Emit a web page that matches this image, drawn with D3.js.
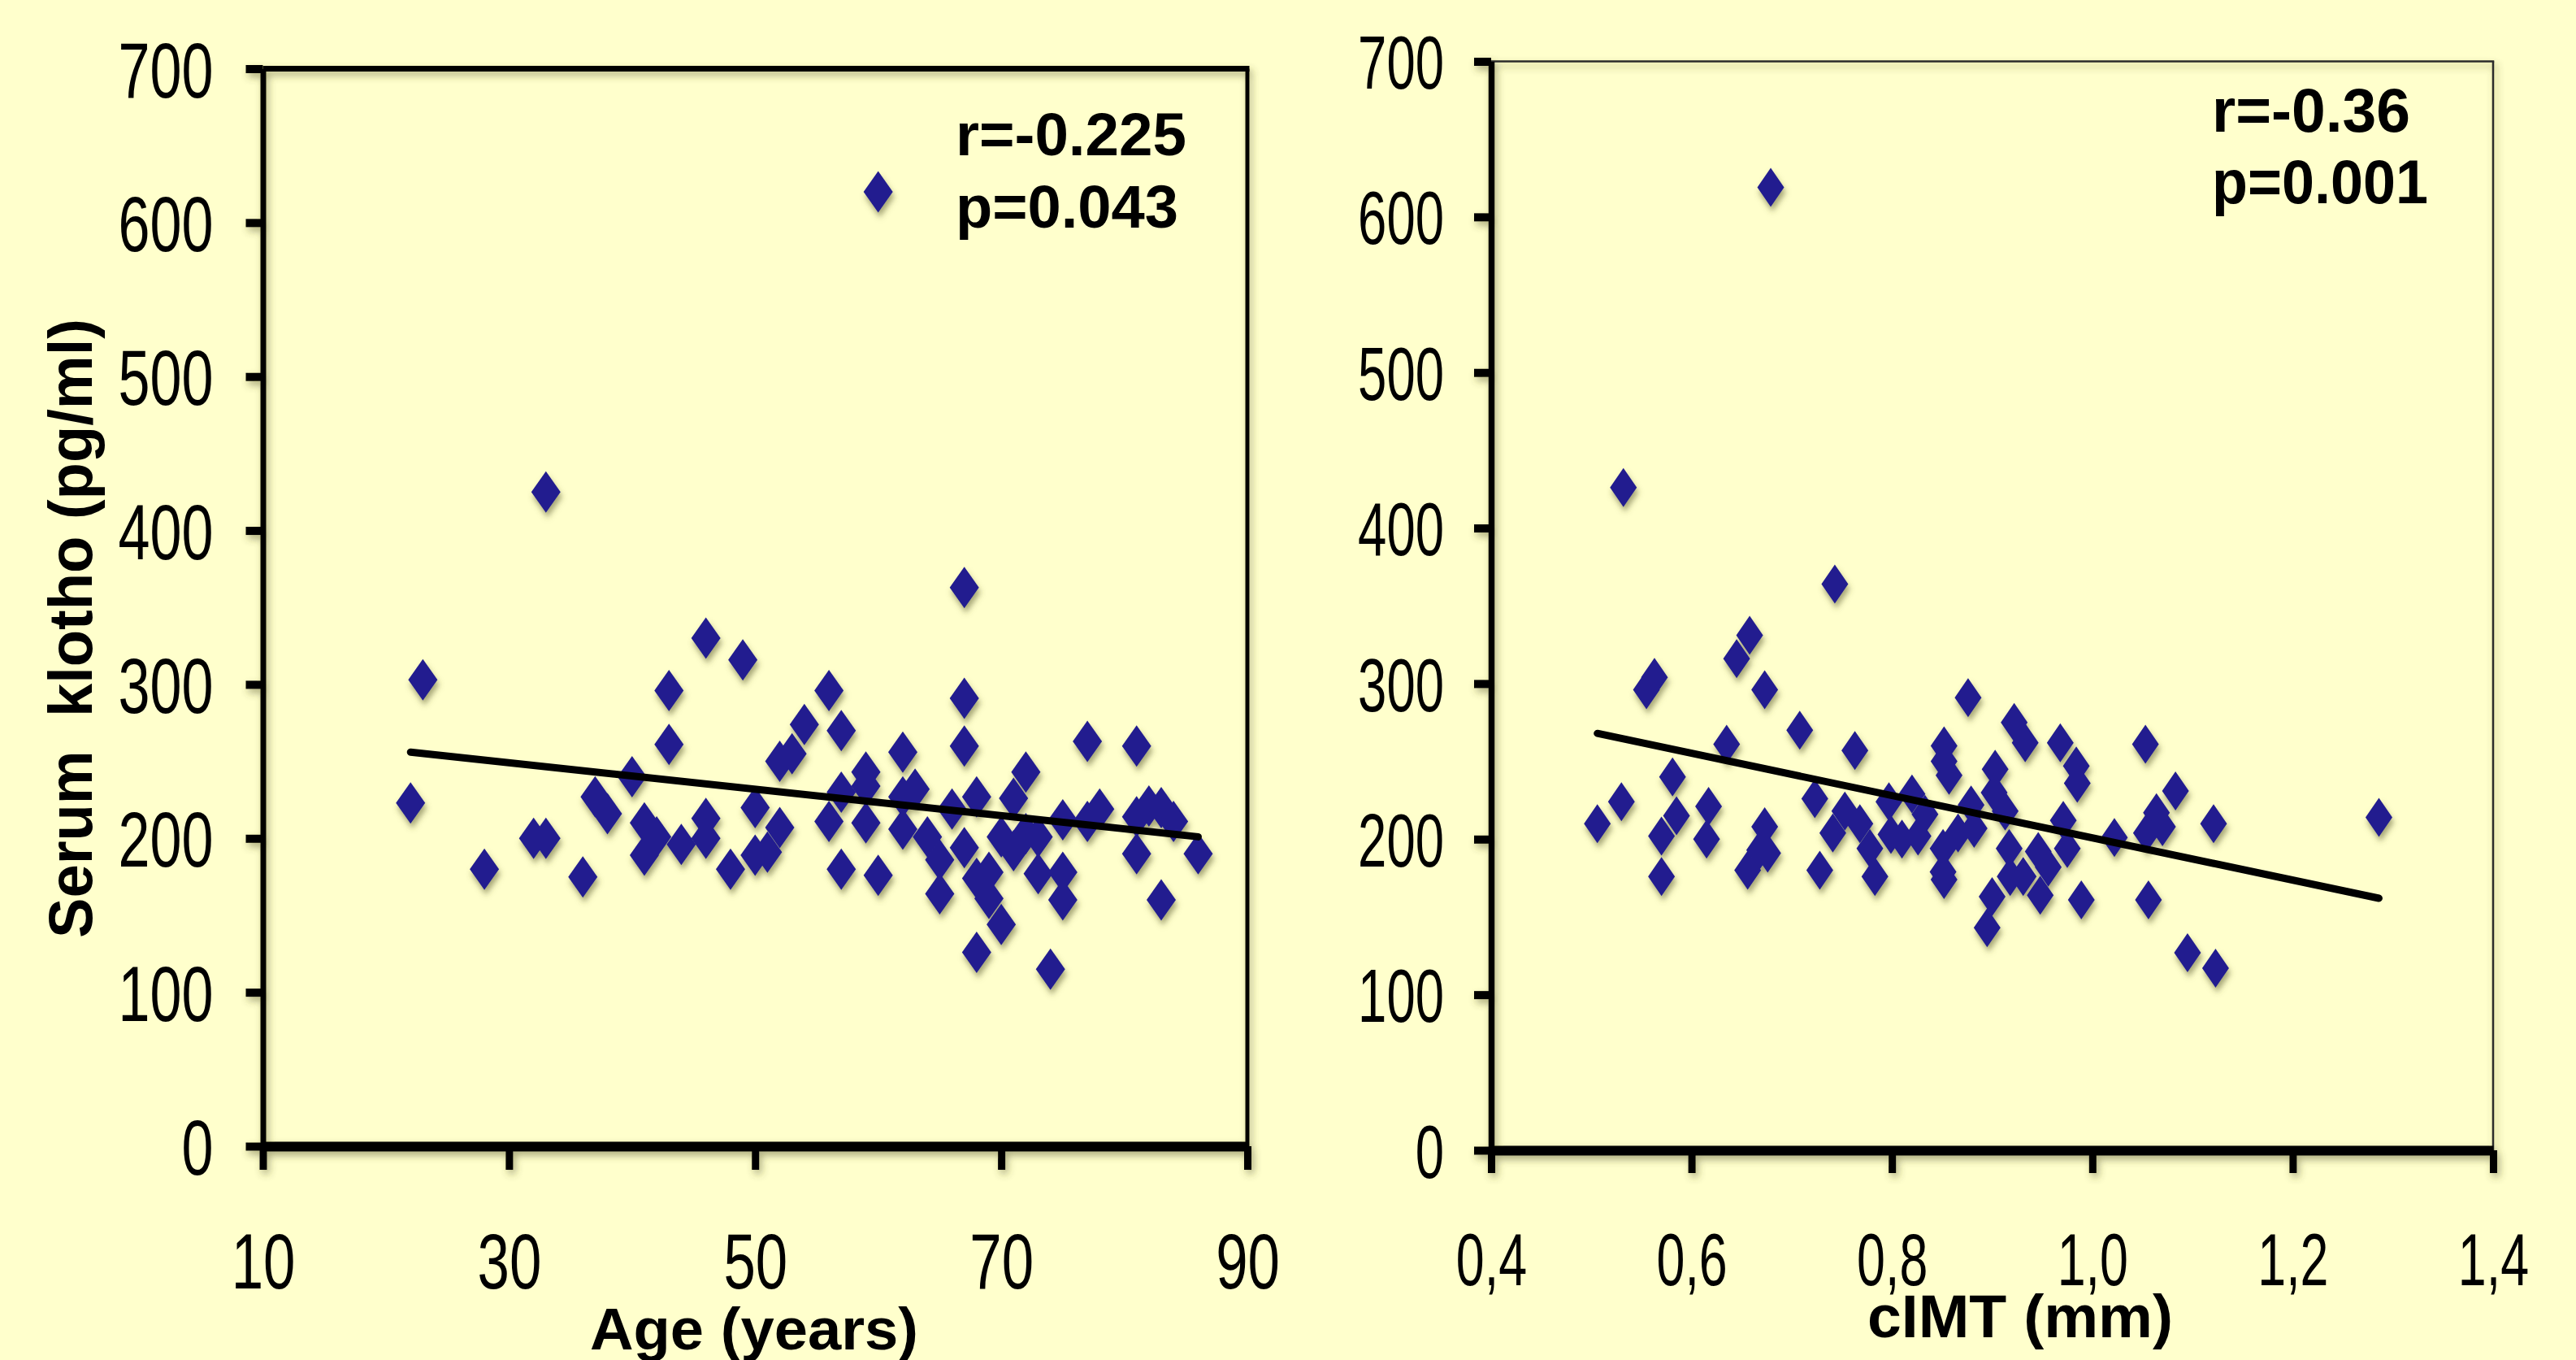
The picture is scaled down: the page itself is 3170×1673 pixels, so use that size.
<!DOCTYPE html>
<html><head><meta charset="utf-8">
<script src="https://cdn.jsdelivr.net/npm/d3@7"></script>
<style>
html,body{margin:0;padding:0;background:#FFFFCC;overflow:hidden;}
svg{display:block;}
</style></head><body>
<svg id="chart" width="3170" height="1673"></svg>
<script>
// ---------- data ----------
const yTicks = [0,100,200,300,400,500,600,700];
const ageTicks = [10,30,50,70,90];
const cimtTicks = [0.4,0.6,0.8,1.0,1.2,1.4];

const ageValues = [22,23,28,32,33,33,36,37,38,40,41,41,42,43,43,44,46,46,46,48,49,50,50,51,52,52,53,54,56,56,57,57,57,59,59,59,60,60,62,62,62,63,64,65,65,66,67,67,67,67,68,68,68,69,69,70,70,71,71,72,72,73,73,74,75,75,75,77,77,78,81,81,81,82,83,83,84,86];
const klothoByAge = [223,303,180,200,200,425,175,227,216,240,210,189,201,296,261,196,330,213,200,180,316,220,189,191,207,250,255,274,296,211,270,230,180,243,234,210,176,620,256,227,206,232,201,186,164,219,363,291,260,194,227,174,126,178,161,201,144,226,192,243,203,201,177,115,212,178,160,263,211,219,260,214,190,221,220,160,211,190];

const cimtValues = [0.743,0.658,0.645,0.563,0.555,0.673,0.876,0.635,0.708,0.763,0.922,0.933,0.968,0.984,0.985,0.852,0.852,0.857,0.903,0.581,0.530,0.506,0.585,0.570,0.570,0.617,0.615,0.673,0.676,0.656,0.723,0.728,0.753,0.741,0.768,0.778,0.783,0.797,0.799,0.820,0.833,0.810,0.826,0.866,0.879,0.882,0.851,0.851,0.852,0.902,0.913,0.917,0.918,0.931,0.946,0.948,0.956,0.971,0.975,0.989,0.900,0.895,0.668,0.532,0.679,1.053,1.083,1.064,1.070,1.054,1.121,1.286,1.022,1.056,1.095,1.123];
const klothoByCimt = [364,331,316,304,296,296,291,261,270,257,275,262,262,247,236,260,250,241,245,240,224,210,215,202,176,221,200,208,191,180,226,180,218,204,210,194,176,224,203,229,216,200,202,204,222,207,194,179,174,230,218,194,176,176,192,164,182,212,194,161,163,143,193,426,619,261,231,217,208,204,210,214,201,161,127,117];

const ageTrendX = [22, 86];
const ageTrendY = [256, 201];
const cimtTrendX = [0.506, 1.286];
const cimtTrendY = [268, 162];

const ageStats = ["r=-0.225", "p=0.043"];
const cimtStats = ["r=-0.36", "p=0.001"];

const yTitle = "Serum  klotho (pg/ml)";
const ageTitle = "Age (years)";
const cimtTitle = "cIMT (mm)";

// ---------- drawing ----------
const FONT = '"Liberation Sans", Arial, Helvetica, sans-serif';
const svg = d3.select("#chart");
svg.append("rect").attr("width",3170).attr("height",1673).attr("fill","#FFFFCC");
const defs = svg.append("defs");
const fs = defs.append("filter").attr("id","frameShadow").attr("filterUnits","userSpaceOnUse")
  .attr("x",0).attr("y",0).attr("width",3170).attr("height",1673);
fs.append("feDropShadow").attr("dx",3).attr("dy",5).attr("stdDeviation",5)
  .attr("flood-color","#4a4a20").attr("flood-opacity",0.45);
const ms = defs.append("filter").attr("id","markShadow").attr("filterUnits","userSpaceOnUse")
  .attr("x",0).attr("y",0).attr("width",3170).attr("height",1673);
ms.append("feDropShadow").attr("dx",2).attr("dy",6).attr("stdDeviation",3.5)
  .attr("flood-color","#5c5c30").attr("flood-opacity",0.55);

function drawPanel(o){
  const x = d3.scaleLinear().domain(o.xDomain).range([o.left, o.right]);
  const y = d3.scaleLinear().domain([yTicks[0], yTicks[yTicks.length-1]]).range([o.bottom, o.top]);
  const yMax = yTicks[yTicks.length-1];

  // frame + axis lines (shadowed)
  const frame = svg.append("g").attr("filter","url(#frameShadow)").attr("color","#000");
  frame.append("line").attr("x1", x(o.xDomain[0])).attr("x2", x(o.xDomain[1]) + o.rightW/2)
    .attr("y1", y(yMax)).attr("y2", y(yMax)).attr("stroke", o.frameColor).attr("stroke-width", o.topW);
  frame.append("line").attr("x1", x(o.xDomain[1])).attr("x2", x(o.xDomain[1]))
    .attr("y1", y(yMax)).attr("y2", y(0)).attr("stroke", o.frameColor).attr("stroke-width", o.rightW);

  const yaL = frame.append("g").attr("transform", `translate(${x(o.xDomain[0])},0)`)
    .call(d3.axisLeft(y).tickValues(yTicks).tickSize(o.yTickLen).tickSizeOuter(0).tickFormat(""));
  yaL.select(".domain").attr("stroke-width", o.yAxisW);
  yaL.selectAll(".tick line").attr("stroke-width", o.yTickW);

  const xaL = frame.append("g").attr("transform", `translate(0,${y(0)})`)
    .call(d3.axisBottom(x).tickValues(o.xTicks).tickSize(o.xTickLen).tickSizeOuter(0).tickFormat(""));
  xaL.select(".domain").attr("stroke-width", o.xAxisW);
  xaL.selectAll(".tick line").attr("stroke-width", o.xTickW);

  // tick labels (no shadow)
  const yaT = svg.append("g").attr("transform", `translate(${x(o.xDomain[0])},0)`)
    .call(d3.axisLeft(y).tickValues(yTicks).tickSize(0).tickFormat(d3.format("d")));
  yaT.select(".domain").remove();
  yaT.selectAll(".tick line").remove();
  yaT.selectAll(".tick text").attr("x",0).attr("dy","0.36em").attr("fill","#000")
    .attr("text-anchor","end")
    .attr("transform", `translate(${-o.yLabOff},0) scale(${o.yLabSX},1)`)
    .style("font-family", FONT).style("font-size", o.yLabSize+"px");

  const xaT = svg.append("g").attr("transform", `translate(0,${y(0)})`)
    .call(d3.axisBottom(x).tickValues(o.xTicks).tickSize(0).tickFormat(o.fmt));
  xaT.select(".domain").remove();
  xaT.selectAll(".tick line").remove();
  xaT.selectAll(".tick text").attr("y",0).attr("dy",0).attr("fill","#000")
    .attr("transform", `translate(0,${o.xLabBase}) scale(${o.xLabSX},1)`)
    .style("font-family", FONT).style("font-size", o.xLabSize+"px");

  // points
  const pts = o.xs.map((v,i)=>({x:v, y:o.ys[i]}));
  svg.append("g").attr("filter","url(#markShadow)")
    .selectAll("path").data(pts).join("path")
    .attr("d", `M0,${-o.mh}L${o.mw},0L0,${o.mh}L${-o.mw},0Z`)
    .attr("transform", d=>`translate(${x(d.x)},${y(d.y)})`)
    .attr("fill","#211d8f");

  // trend line
  const trend = o.tx.map((v,i)=>({x:v, y:o.ty[i]}));
  svg.append("path").datum(trend)
    .attr("d", d3.line().x(d=>x(d.x)).y(d=>y(d.y)))
    .attr("fill","none").attr("stroke","#000").attr("stroke-width",9).attr("stroke-linecap","round");

  // stats
  o.stats.forEach((s,i)=>{
    svg.append("text").attr("x", o.statX).attr("y", o.statY[i]).text(s)
      .attr("textLength", o.statLen[i]).attr("lengthAdjust","spacingAndGlyphs")
      .style("font-family", FONT).style("font-weight","bold").style("font-size", o.statSize+"px");
  });

  // x title
  svg.append("text").attr("x", o.titleX).attr("y", o.titleY).text(o.title)
    .attr("textLength", o.titleLen).attr("lengthAdjust","spacingAndGlyphs")
    .style("font-family", FONT).style("font-weight","bold").style("font-size", o.titleSize+"px");
}

const commaFmt = d => d3.format(".1f")(d).replace(".", ",");

drawPanel({
  xDomain:[10,90], xTicks: ageTicks, fmt: d3.format("d"),
  left:323.5, right:1535, top:84.5, bottom:1410,
  frameColor:"#000", topW:7, rightW:5, yAxisW:7, xAxisW:12,
  yTickLen:21, yTickW:10, xTickLen:29, xTickW:9,
  yLabOff:61, yLabSX:0.73, yLabSize:96,
  xLabBase:175, xLabSX:0.73, xLabSize:97,
  xs: ageValues, ys: klothoByAge, mw:18, mh:25.5,
  tx: ageTrendX, ty: ageTrendY,
  stats: ageStats, statX:1176, statY:[191,280], statLen:[284,274], statSize:75,
  title: ageTitle, titleX:726, titleY:1660, titleLen:404, titleSize:73
});

drawPanel({
  xDomain:[0.4,1.4], xTicks: cimtTicks, fmt: commaFmt,
  left:1835, right:3068, top:75.5, bottom:1415,
  frameColor:"#2a2a2a", topW:2.5, rightW:2.5, yAxisW:7.5, xAxisW:12,
  yTickLen:21, yTickW:10, xTickLen:28, xTickW:9,
  yLabOff:58, yLabSX:0.69, yLabSize:92,
  xLabBase:166, xLabSX:0.69, xLabSize:91,
  xs: cimtValues, ys: klothoByCimt, mw:16.5, mh:24,
  tx: cimtTrendX, ty: cimtTrendY,
  stats: cimtStats, statX:2722, statY:[162,250], statLen:[244,266], statSize:76,
  title: cimtTitle, titleX:2298, titleY:1645, titleLen:376, titleSize:74
});

// y title
svg.append("text").attr("transform","translate(113,773) rotate(-90)")
  .attr("text-anchor","middle").attr("textLength",762).attr("lengthAdjust","spacingAndGlyphs")
  .style("white-space","pre").text(yTitle)
  .style("font-family", FONT).style("font-weight","bold").style("font-size","76px");
</script>
</body></html>
